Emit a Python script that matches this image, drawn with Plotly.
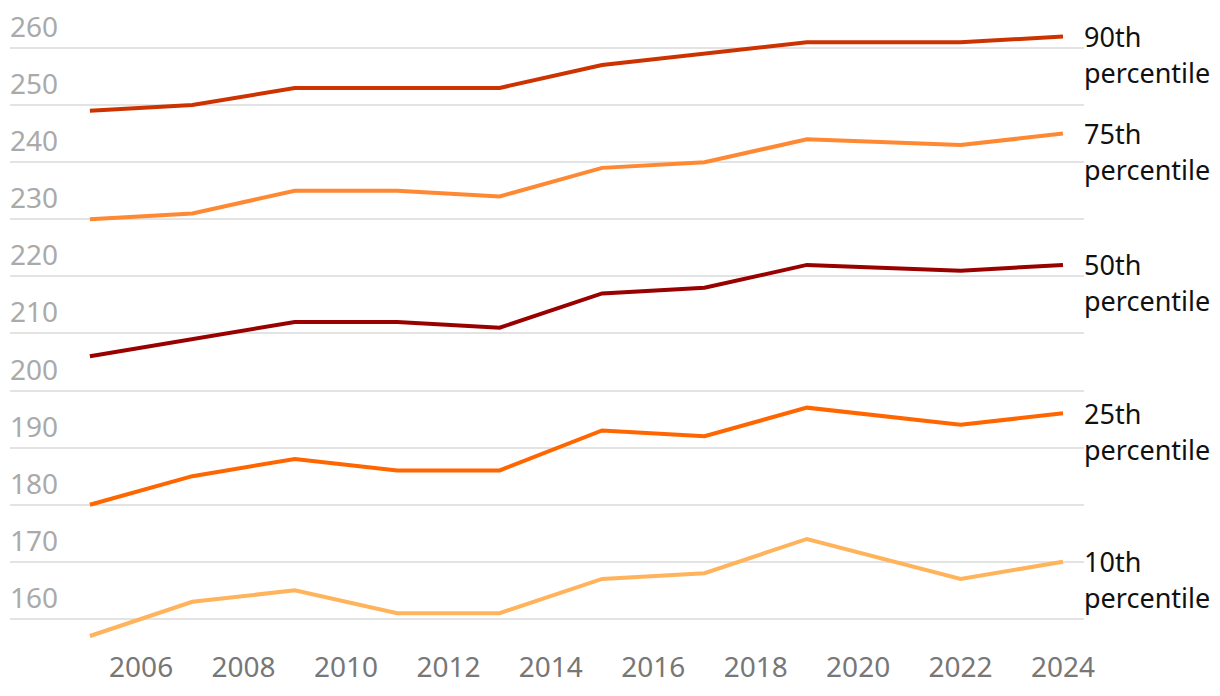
import plotly.graph_objects as go

years = [2005, 2007, 2009, 2011, 2013, 2015, 2017, 2019, 2022, 2024]
p90 = [249, 250, 253, 253, 253, 257, 259, 261, 261, 262]
p75 = [230, 231, 235, 235, 234, 239, 240, 244, 243, 245]
p50 = [206, 209, 212, 212, 211, 217, 218, 222, 221, 222]
p25 = [180, 185, 188, 186, 186, 193, 192, 197, 194, 196]
p10 = [157, 163, 165, 161, 161, 167, 168, 174, 167, 170]

series_names = ["90th", "75th", "50th", "25th", "10th"]
series_values = [p90, p75, p50, p25, p10]
series_colors = ["#cc3300", "#ff8833", "#990000", "#ff6600", "#ffb35a"]

y_ticks = [160, 170, 180, 190, 200, 210, 220, 230, 240, 250, 260]
x_ticks = [2006, 2008, 2010, 2012, 2014, 2016, 2018, 2020, 2022, 2024]

FONT = "Noto Sans"

fig = go.Figure()
for name, vals, col in zip(series_names, series_values, series_colors):
    fig.add_trace(go.Scatter(x=years, y=vals, mode="lines", name=name,
                             line=dict(color=col, width=4), hoverinfo="skip"))

annotations = []
for name, vals in zip(series_names, series_values):
    annotations.append(dict(x=years[-1], y=vals[-1], xref="x", yref="y",
                            text=name, showarrow=False, xanchor="left", yanchor="middle",
                            xshift=19, yshift=0,
                            font=dict(family=FONT, size=27, color="#111111")))
    annotations.append(dict(x=years[-1], y=vals[-1], xref="x", yref="y",
                            text="percentile", showarrow=False, xanchor="left", yanchor="middle",
                            xshift=19, yshift=-36,
                            font=dict(family=FONT, size=27, color="#111111")))

for t in y_ticks:
    annotations.append(dict(x=0, y=t, xref="paper", yref="y", text=str(t),
                            showarrow=False, xanchor="left", yanchor="bottom",
                            xshift=-2, yshift=1,
                            font=dict(family=FONT, size=28, color="#aaaaaa")))

fig.update_layout(
    width=1220, height=696,
    margin=dict(l=2, r=144, t=12, b=56),
    plot_bgcolor="white", paper_bgcolor="white",
    showlegend=False,
    annotations=annotations,
    xaxis=dict(range=[2003.44, 2024.41], tickvals=x_ticks, showgrid=False,
               zeroline=False, showline=False, ticks="",
               tickfont=dict(family=FONT, size=28, color="#777777")),
    yaxis=dict(range=[154.9, 264.9], tickvals=y_ticks, showticklabels=False,
               showgrid=True, gridcolor="#e3e3e3", gridwidth=1.5,
               zeroline=False, showline=False, ticks=""),
)

fig.write_html("out.html")
